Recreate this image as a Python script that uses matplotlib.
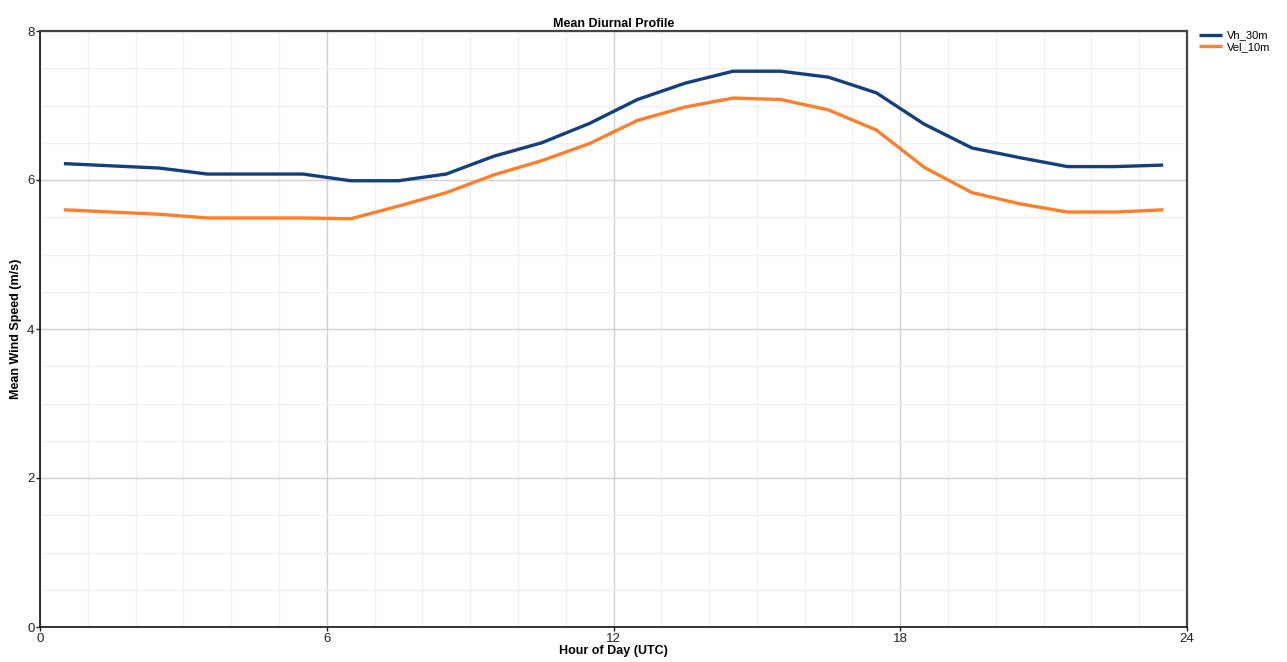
import matplotlib
matplotlib.use("Agg")
import matplotlib.pyplot as plt
from matplotlib.ticker import MultipleLocator

plt.rcParams['font.family'] = ['Liberation Sans', 'DejaVu Sans']

hours = [h + 0.5 for h in range(24)]
vh_30m = [6.22, 6.19, 6.16, 6.08, 6.08, 6.08, 5.99, 5.99, 6.08, 6.32, 6.50, 6.76,
          7.08, 7.30, 7.46, 7.46, 7.38, 7.17, 6.75, 6.43, 6.30, 6.18, 6.18, 6.20]
vel_10m = [5.60, 5.57, 5.54, 5.49, 5.49, 5.49, 5.48, 5.65, 5.83, 6.07, 6.26, 6.49,
           6.80, 6.98, 7.10, 7.08, 6.94, 6.67, 6.17, 5.83, 5.68, 5.57, 5.57, 5.60]
series_names = ['Vh_30m', 'Vel_10m']
colors = ['#143f7a', '#ff7f2a']

fig = plt.figure(figsize=(12.87, 6.62), dpi=100)
ax = fig.add_axes([40/1287, 35/662, 1147/1287, 596/662])

for vals, name, c in zip([vh_30m, vel_10m], series_names, colors):
    ax.plot(hours, vals, color=c, lw=2.4, label=name, solid_capstyle='butt')

ax.set_xlim(0, 24)
ax.set_ylim(0, 8)
ax.xaxis.set_major_locator(MultipleLocator(6))
ax.xaxis.set_minor_locator(MultipleLocator(1))
ax.yaxis.set_major_locator(MultipleLocator(2))
ax.yaxis.set_minor_locator(MultipleLocator(0.5))
ax.grid(which='major', color='#d0d0d0', lw=1.0)
ax.grid(which='minor', color='#f0f0f0', lw=1.0)
ax.set_axisbelow(True)

ax.tick_params(which='major', length=3, width=1, labelsize=9.5, colors='#222222', pad=1)
ax.tick_params(which='minor', length=0)
for s in ['left', 'bottom']:
    ax.spines[s].set_color('#111111')
    ax.spines[s].set_linewidth(1.2)
for s in ['top', 'right']:
    ax.spines[s].set_color('#444444')
    ax.spines[s].set_linewidth(1.6)

ax.set_title('Mean Diurnal Profile', fontsize=9, fontweight='bold', pad=3)
ax.set_xlabel('Hour of Day (UTC)', fontsize=9, fontweight='bold', labelpad=0)
ax.set_ylabel('Mean Wind Speed (m/s)', fontsize=9, fontweight='bold', labelpad=4)

ax.legend(loc='upper left', bbox_to_anchor=(1.005, 1.012), frameon=False, fontsize=8,
          handlelength=2.0, handletextpad=0.5, labelspacing=0.1, borderaxespad=0.2)

fig.savefig('out.png', dpi=100)
